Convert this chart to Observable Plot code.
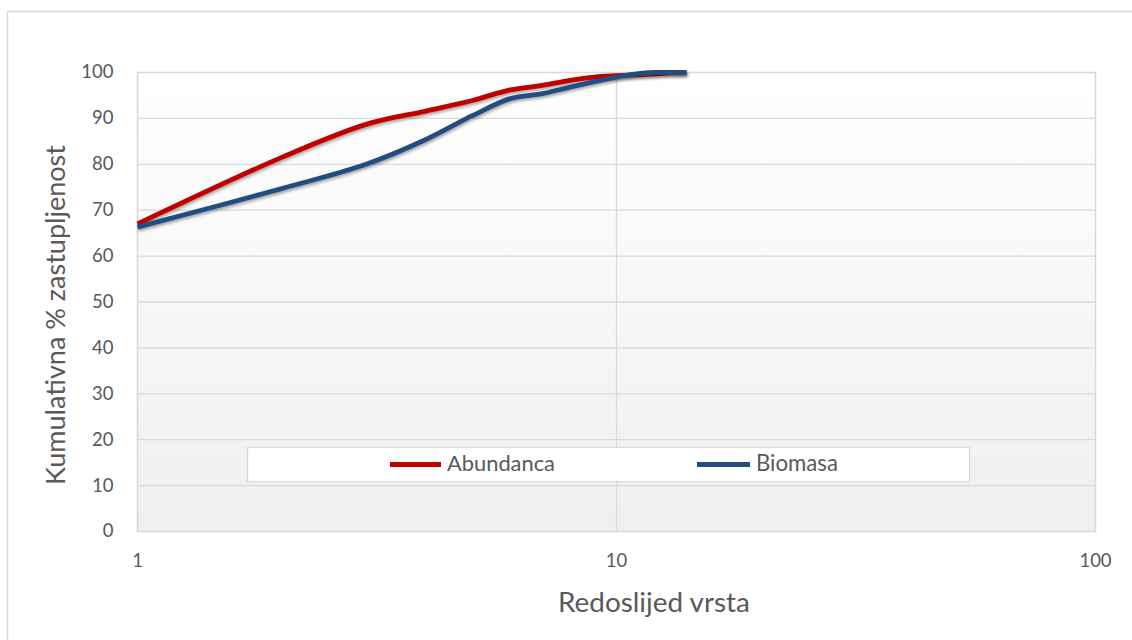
<!DOCTYPE html>
<html>
<head>
<meta charset="utf-8">
<script src="https://cdn.jsdelivr.net/npm/d3@7"></script>
<script src="https://cdn.jsdelivr.net/npm/@observablehq/plot@0.6"></script>
<style>
  html, body { margin: 0; padding: 0; background: #ffffff; }
  body { width: 1132px; height: 640px; overflow: hidden; font-family: Lato, "Open Sans", sans-serif; }
  #chart { position: relative; width: 1132px; height: 640px; }
</style>
</head>
<body>
<div id="chart"></div>
<script>
// ---- data ----
const ranks = [1, 2, 3, 4, 5, 6, 7, 8, 9, 10, 11, 12, 13, 14];
const abundanca = [67.0, 81.5, 88.7, 91.6, 93.9, 96.2, 97.2, 98.3, 99.0, 99.3, 99.5, 99.7, 99.9, 100];
const biomasa   = [66.3, 74.7, 80.0, 85.4, 90.6, 94.3, 95.4, 96.8, 98.0, 99.0, 99.7, 100, 100, 100];
const seriesNames = ["Abundanca", "Biomasa"];
const seriesColors = ["#C00000", "#244E80"];
const yTicks = [0, 10, 20, 30, 40, 50, 60, 70, 80, 90, 100];
const xTicks = [1, 10, 100];
const xTitle = "Redoslijed vrsta";
const yTitle = "Kumulativna % zastupljenost";

const rows = [];
ranks.forEach((r, i) => {
  rows.push({rank: r, value: abundanca[i], series: seriesNames[0]});
  rows.push({rank: r, value: biomasa[i], series: seriesNames[1]});
});

const W = 1132, H = 640;
const M = {left: 137, right: 37, top: 72, bottom: 109};
const tickColor = "#595959";
const font = "Lato, 'Open Sans', sans-serif";

const plot = Plot.plot({
  width: W,
  height: H,
  marginLeft: M.left,
  marginRight: M.right,
  marginTop: M.top,
  marginBottom: M.bottom,
  style: {fontFamily: font, background: "transparent", overflow: "visible"},
  x: {type: "log", domain: [1, 100]},
  y: {domain: [0, 100]},
  color: {domain: seriesNames, range: seriesColors},
  marks: [
    Plot.frame({fill: "url(#bgGrad)", stroke: null}),
    Plot.gridY(yTicks.filter(d => d > 0 && d < 100), {stroke: "#D9D9D9", strokeOpacity: 1, strokeWidth: 1.3}),
    Plot.gridX([10], {stroke: "#D9D9D9", strokeOpacity: 1, strokeWidth: 1.3}),
    Plot.frame({stroke: "#D9D9D9", strokeWidth: 1.6}),
    Plot.axisY(yTicks, {tickSize: 0, tickPadding: 24, fontSize: 18.5, fill: tickColor, label: null}),
    Plot.axisX(xTicks, {tickSize: 0, tickPadding: 22, fontSize: 18.5, fill: tickColor, label: null, tickFormat: d => String(d)}),
    Plot.line(rows, {x: "rank", y: "value", z: "series", stroke: "series", strokeWidth: 4.8, curve: "catmull-rom", strokeLinecap: "butt"})
  ]
});

document.getElementById("chart").appendChild(plot);
const svg = d3.select(plot);

// defs: gradient + shadow
const defs = svg.insert("defs", ":first-child");
const grad = defs.append("linearGradient").attr("id", "bgGrad").attr("x1", 0).attr("y1", 0).attr("x2", 0).attr("y2", 1);
grad.append("stop").attr("offset", "0%").attr("stop-color", "#FFFFFF");
grad.append("stop").attr("offset", "100%").attr("stop-color", "#EFEFEF");
const f = defs.append("filter").attr("id", "lineShadow").attr("x", "-5%").attr("y", "-20%").attr("width", "110%").attr("height", "140%");
f.append("feDropShadow").attr("dx", 1).attr("dy", 2).attr("stdDeviation", 1.4).attr("flood-color", "#000").attr("flood-opacity", 0.35);
svg.selectAll("g[aria-label='line'] path").attr("filter", "url(#lineShadow)");

// outer chart border
svg.insert("rect", "defs + *")
  .attr("x", 7.5).attr("y", 11.5).attr("width", W).attr("height", H)
  .attr("fill", "none").attr("stroke", "#D9D9D9").attr("stroke-width", 1.5);

function fitText(sel, targetWidth) {
  const node = sel.node();
  const size = parseFloat(sel.attr("font-size"));
  const w = node.getComputedTextLength();
  if (w > 0) sel.attr("font-size", (size * targetWidth / w).toFixed(2));
}

// axis titles
const xt = svg.append("text")
  .attr("x", 558).attr("y", 612)
  .attr("text-anchor", "start")
  .attr("font-family", font).attr("font-size", 22).attr("fill", tickColor)
  .text(xTitle);
fitText(xt, 192);

const yt = svg.append("text")
  .attr("transform", "translate(65,315) rotate(-90)")
  .attr("text-anchor", "middle")
  .attr("font-family", font).attr("font-size", 22).attr("fill", tickColor)
  .text(yTitle);
fitText(yt, 340);

// legend
const lg = svg.append("g");
lg.append("rect").attr("x", 247.5).attr("y", 447.5).attr("width", 722).attr("height", 34)
  .attr("fill", "#FFFFFF").attr("stroke", "#D9D9D9").attr("stroke-width", 1.3);
const legendItems = [
  {name: seriesNames[0], color: seriesColors[0], x0: 390, x1: 441, tx: 447, tw: 108},
  {name: seriesNames[1], color: seriesColors[1], x0: 697, x1: 750, tx: 756, tw: 82}
];
legendItems.forEach(it => {
  lg.append("line").attr("x1", it.x0).attr("x2", it.x1).attr("y1", 464.5).attr("y2", 464.5)
    .attr("stroke", it.color).attr("stroke-width", 4.8);
  const t = lg.append("text").attr("x", it.tx).attr("y", 471)
    .attr("text-anchor", "start")
    .attr("font-family", font).attr("font-size", 19).attr("fill", tickColor).text(it.name);
  fitText(t, it.tw);
});
</script>
</body>
</html>
